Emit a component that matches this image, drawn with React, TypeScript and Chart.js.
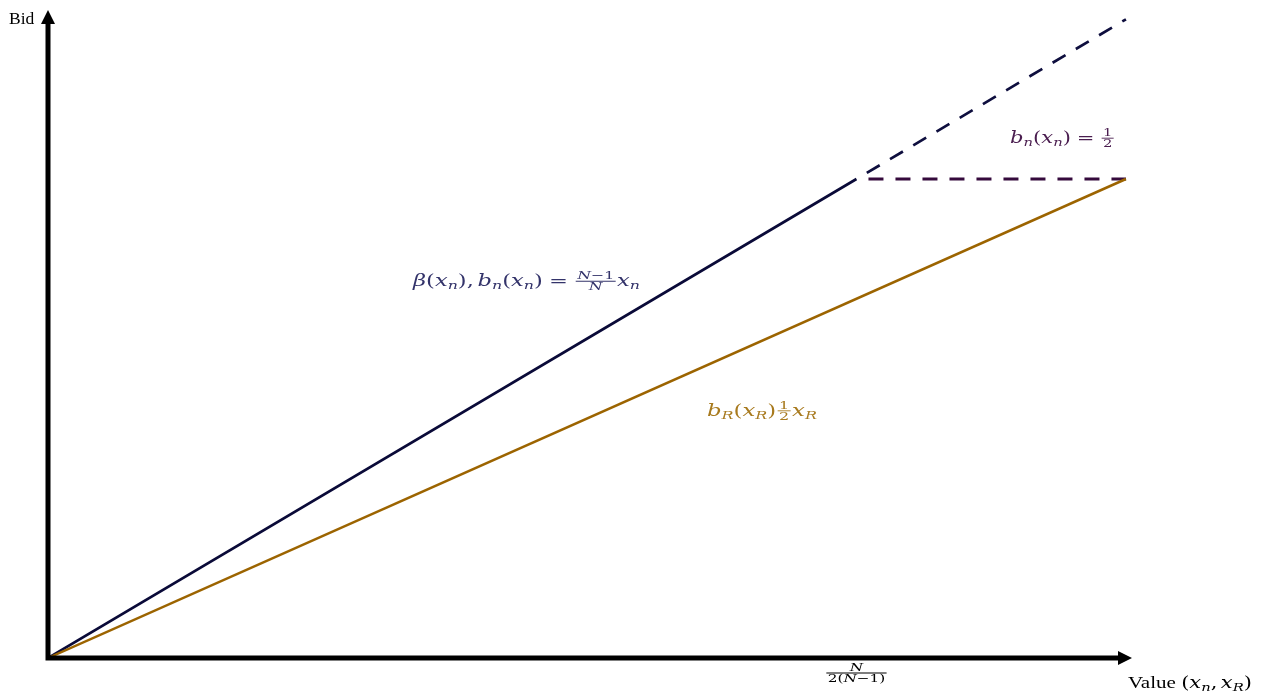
import React, { useEffect, useRef } from "react";
import { Chart, registerables } from "chart.js";
Chart.register(...registerables);

// N = 3 -> cutoff N/(2(N-1)) = 0.75, slope (N-1)/N = 2/3, reserve slope 1/2
const bidderSolidX = [0, 0.75];
const bidderSolidY = [0, 0.5];
const bidderDashX = [0.75, 1];
const bidderDashY = [0.5, 0.6667];
const capX = [0.75, 1];
const capY = [0.5, 0.5];
const reserveX = [0, 1];
const reserveY = [0, 0.5];
const xTickValues = [0.75];
const xAxisMax = 1.0056;
const yAxisMax = 0.6764;

const MATH = "'DejaVu Serif', 'Liberation Serif', serif";
const TEXT = "'Liberation Serif', 'Times New Roman', serif";

type Run = { s?: string; it?: boolean; sub?: boolean; tf?: boolean; sp?: number; frac?: [Run[], Run[]] };

function font(size: number, it?: boolean, tf?: boolean) {
  return `${it ? "italic " : ""}${size}px ${tf ? TEXT : MATH}`;
}

function measureRuns(ctx: CanvasRenderingContext2D, runs: Run[], size: number): number {
  let w = 0;
  for (const r of runs) {
    if (r.sp !== undefined) {
      w += r.sp * size;
    } else if (r.frac) {
      const fs = size * 0.7;
      w += Math.max(measureRuns(ctx, r.frac[0], fs), measureRuns(ctx, r.frac[1], fs)) + 4;
    } else {
      const fs = r.sub ? size * 0.7 : size;
      ctx.font = font(fs, r.it, r.tf);
      w += ctx.measureText(r.s || "").width;
    }
  }
  return w;
}

function drawRuns(ctx: CanvasRenderingContext2D, runs: Run[], x: number, y: number, size: number) {
  let cx = x;
  for (const r of runs) {
    if (r.sp !== undefined) {
      cx += r.sp * size;
    } else if (r.frac) {
      const fs = size * 0.7;
      const nw = measureRuns(ctx, r.frac[0], fs);
      const dw = measureRuns(ctx, r.frac[1], fs);
      const w = Math.max(nw, dw) + 4;
      const barY = y - size * 0.3;
      ctx.save();
      ctx.lineWidth = 0.9;
      ctx.strokeStyle = ctx.fillStyle as string;
      ctx.beginPath();
      ctx.moveTo(cx + 1, barY);
      ctx.lineTo(cx + w - 1, barY);
      ctx.stroke();
      ctx.restore();
      drawRuns(ctx, r.frac[0], cx + (w - nw) / 2, barY - 2, fs);
      drawRuns(ctx, r.frac[1], cx + (w - dw) / 2, barY + fs * 0.8, fs);
      cx += w;
    } else {
      const fs = r.sub ? size * 0.7 : size;
      ctx.font = font(fs, r.it, r.tf);
      const yy = r.sub ? y + size * 0.2 : y;
      ctx.fillText(r.s || "", cx, yy);
      cx += ctx.measureText(r.s || "").width;
    }
  }
  return cx - x;
}

// draw runs centred at cx, horizontally fitted to width targetW
function drawFit(ctx: CanvasRenderingContext2D, runs: Run[], size: number, cx: number, baseline: number, targetW: number) {
  const w = measureRuns(ctx, runs, size);
  const sx = targetW / w;
  ctx.save();
  ctx.translate(cx - targetW / 2, 0);
  ctx.scale(sx, 1);
  drawRuns(ctx, runs, 0, baseline, size);
  ctx.restore();
}

const TH = 0.278; // thick space
const TN = 0.167; // thin space

const betaLabel: Run[] = [
  { s: "β", it: true }, { s: "(" }, { s: "x", it: true }, { s: "n", it: true, sub: true }, { s: ")," }, { sp: TN },
  { s: "b", it: true }, { s: "n", it: true, sub: true }, { s: "(" }, { s: "x", it: true }, { s: "n", it: true, sub: true },
  { s: ")" }, { sp: TH }, { s: "=" }, { sp: TH },
  { frac: [[{ s: "N", it: true }, { s: "−1" }], [{ s: "N", it: true }]] },
  { s: "x", it: true }, { s: "n", it: true, sub: true },
];
const reserveLabel: Run[] = [
  { s: "b", it: true }, { s: "R", it: true, sub: true }, { s: "(" }, { s: "x", it: true }, { s: "R", it: true, sub: true },
  { s: ")" }, { frac: [[{ s: "1" }], [{ s: "2" }]] }, { s: "x", it: true }, { s: "R", it: true, sub: true },
];
const capLabel: Run[] = [
  { s: "b", it: true }, { s: "n", it: true, sub: true }, { s: "(" }, { s: "x", it: true }, { s: "n", it: true, sub: true },
  { s: ")" }, { sp: TH }, { s: "=" }, { sp: TH }, { frac: [[{ s: "1" }], [{ s: "2" }]] },
];
const tickLabel: Run[] = [{ frac: [[{ s: "N", it: true }], [{ s: "2(" }, { s: "N", it: true }, { s: "−1)" }]] }];
const xTitle: Run[] = [
  { s: "Value ", tf: true }, { s: "(" }, { s: "x", it: true }, { s: "n", it: true, sub: true }, { s: "," }, { sp: TN },
  { s: "x", it: true }, { s: "R", it: true, sub: true }, { s: ")" },
];

const toPts = (xs: number[], ys: number[]) => xs.map((x, i) => ({ x, y: ys[i] }));

const overlay = {
  id: "overlay",
  afterDatasetsDraw(chart: any) {
    const ctx: CanvasRenderingContext2D = chart.ctx;
    const xs = chart.scales.x;
    const ys = chart.scales.y;
    const ox = xs.getPixelForValue(0);
    const oy = ys.getPixelForValue(0);
    const tipX = xs.getPixelForValue(xAxisMax);
    const tipY = ys.getPixelForValue(yAxisMax);
    ctx.save();
    ctx.fillStyle = "#000";
    ctx.strokeStyle = "#000";
    ctx.lineWidth = 5;
    ctx.lineCap = "butt";
    ctx.beginPath();
    ctx.moveTo(ox - 2.5, oy);
    ctx.lineTo(tipX - 10, oy);
    ctx.moveTo(ox, oy + 2.5);
    ctx.lineTo(ox, tipY + 10);
    ctx.stroke();
    // arrow heads
    ctx.beginPath();
    ctx.moveTo(tipX, oy);
    ctx.lineTo(tipX - 14, oy - 7);
    ctx.lineTo(tipX - 14, oy + 7);
    ctx.closePath();
    ctx.fill();
    ctx.beginPath();
    ctx.moveTo(ox, tipY);
    ctx.lineTo(ox - 7, tipY + 14);
    ctx.lineTo(ox + 7, tipY + 14);
    ctx.closePath();
    ctx.fill();

    ctx.textBaseline = "alphabetic";
    // axis titles
    ctx.fillStyle = "#000";
    ctx.font = `17.5px ${TEXT}`;
    ctx.fillText("Bid", 9, 24);
    drawFit(ctx, xTitle, 16, tipX + 58, oy + 30, 124);

    // tick labels
    for (const v of xTickValues) {
      const px = xs.getPixelForValue(v);
      ctx.fillStyle = "#000";
      drawFit(ctx, tickLabel, 16, px, oy + 15 + 16 * 0.3, 63);
    }

    // curve labels
    const lbl = (runs: Run[], cxv: number, cyv: number, w: number, color: string) => {
      ctx.fillStyle = color;
      drawFit(ctx, runs, 16, xs.getPixelForValue(cxv), ys.getPixelForValue(cyv), w);
    };
    lbl(betaLabel, 0.4439, 0.3883, 227, "#33336a");
    lbl(reserveLabel, 0.6623, 0.2530, 110, "#a87a1e");
    lbl(capLabel, 0.9411, 0.5376, 105, "#4a1d4f");
    ctx.restore();
  },
};

export default function App() {
  const ref = useRef<HTMLCanvasElement | null>(null);
  useEffect(() => {
    document.body.style.margin = "0";
    const canvas = ref.current!;
    const chart = new Chart(canvas, {
      type: "scatter",
      data: {
        datasets: [
          {
            data: toPts(reserveX, reserveY),
            showLine: true,
            borderColor: "#9c6400",
            borderWidth: 2.5,
            pointRadius: 0,
          },
          {
            data: toPts(bidderSolidX, bidderSolidY),
            showLine: true,
            borderColor: "#0a0a38",
            borderWidth: 2.7,
            pointRadius: 0,
          },
          {
            data: toPts(bidderDashX, bidderDashY),
            showLine: true,
            borderColor: "#0e0e3e",
            borderWidth: 2.7,
            borderDash: [15, 12],
            borderDashOffset: 15,
            pointRadius: 0,
          },
          {
            data: toPts(capX, capY),
            showLine: true,
            borderColor: "#350a3c",
            borderWidth: 2.8,
            borderDash: [15, 12],
            borderDashOffset: 15,
            pointRadius: 0,
          },
        ],
      },
      options: {
        animation: false,
        responsive: false,
        maintainAspectRatio: false,
        layout: { padding: { left: 48, right: 138, top: 10, bottom: 36 } },
        plugins: { legend: { display: false }, tooltip: { enabled: false } },
        scales: {
          x: { type: "linear", min: 0, max: xAxisMax, display: false },
          y: { type: "linear", min: 0, max: yAxisMax, display: false },
        },
      },
      plugins: [overlay],
    });
    return () => chart.destroy();
  }, []);
  return (
    <div style={{ position: "relative", width: 1270, height: 694, background: "#fff" }}>
      <canvas ref={ref} width={1270} height={694} style={{ display: "block" }} />
    </div>
  );
}
